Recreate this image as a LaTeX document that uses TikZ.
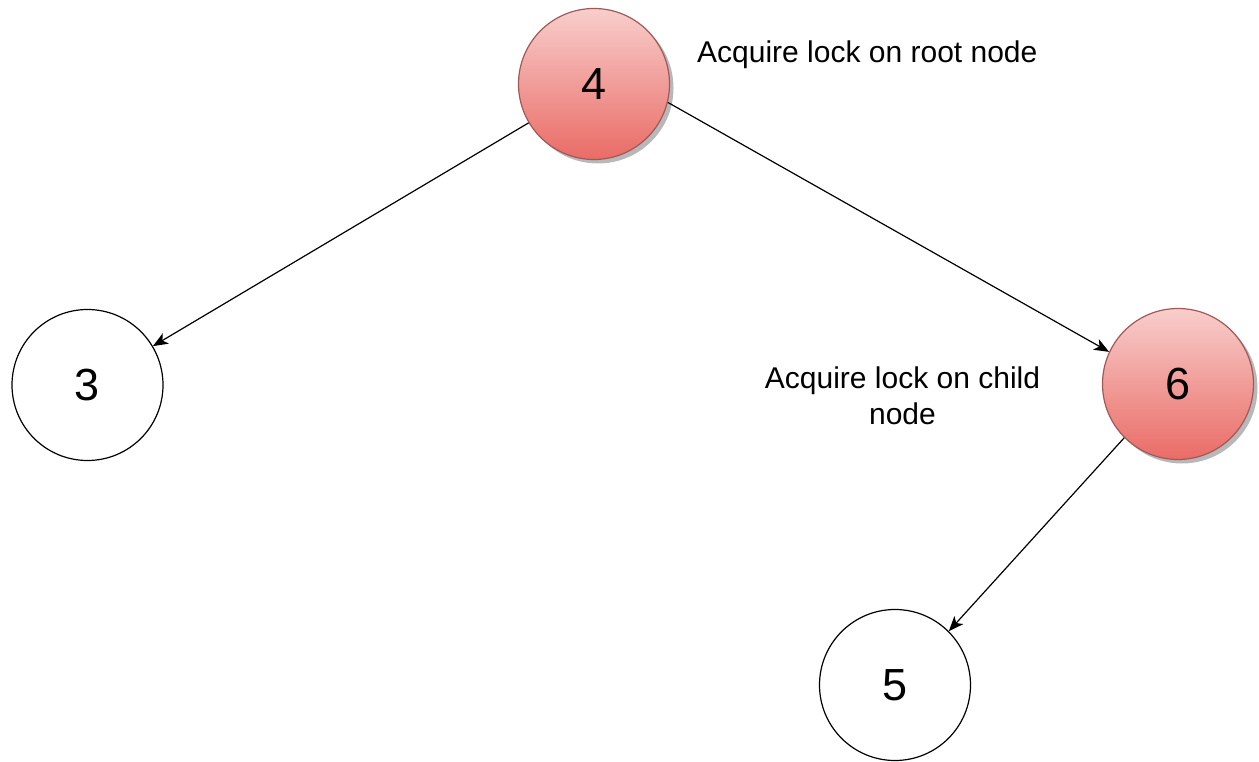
\documentclass[tikz,border=0pt]{standalone}
\usepackage{fontspec}
\setmainfont{Liberation Sans}
\usetikzlibrary{arrows.meta,shadows}

\definecolor{lockfill}{HTML}{F8CECC}
\definecolor{lockgrad}{HTML}{EA6B66}
\definecolor{lockline}{HTML}{9E5A57}

\begin{document}
\begin{tikzpicture}[x=1pt,y=-1pt,
  tnode/.style={circle,draw=black,line width=1.2pt,minimum size=151pt,inner sep=0pt,
    font=\fontsize{45}{54}\selectfont},
  locked/.style={tnode,draw=lockline,top color=lockfill,bottom color=lockgrad,
    drop shadow={shadow xshift=4pt,shadow yshift=-4pt,fill=black!28,opacity=1}},
  link/.style={line width=1.2pt,-{Stealth[length=15pt,width=12pt,inset=4pt]}},
  note/.style={inner sep=0pt,font=\fontsize{30}{36}\selectfont}
]
\useasboundingbox (0,0) rectangle (1259,762);

% tree nodes
\node[locked] (n4) at (594,84)   {4};
\node[tnode]  (n3) at (87.5,385) {3};
\node[locked] (n6) at (1178,384) {6};
\node[tnode]  (n5) at (895,685)  {5};

% parent-to-child links
\draw[link] (n4) -- (n3);
\draw[link] (n4.-14) -- (n6.155);
\draw[link] (n6.225) -- (n5.45);

% annotations
\node[note,anchor=base west] (t1) at (697,63) {Acquire lock on root node};
\node[note,align=center,anchor=base] (t2) at (902.5,424) {Acquire lock on child\\node};
\end{tikzpicture}
\end{document}
